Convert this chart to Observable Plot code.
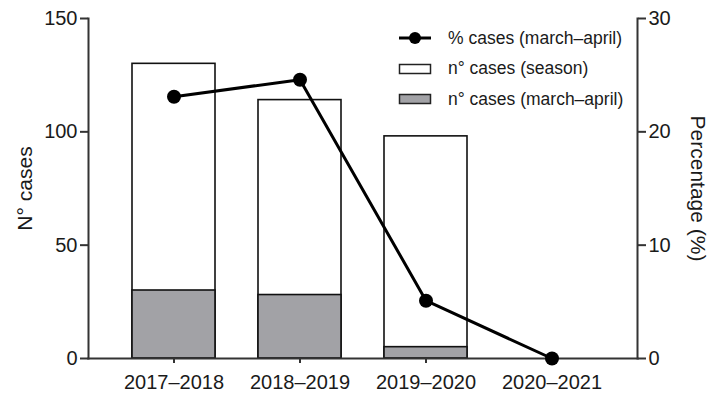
<!DOCTYPE html>
<html>
<head>
<meta charset="utf-8">
<script src="https://cdn.jsdelivr.net/npm/d3@7"></script>
<script src="https://cdn.jsdelivr.net/npm/@observablehq/plot@0.6"></script>
<style>
  html, body { margin: 0; padding: 0; background: #fff; }
  #wrap { position: relative; width: 709px; height: 396px; font-family: "Liberation Sans", Arial, sans-serif; color: #1a1a1a; }
  #legend { position: absolute; left: 398px; top: 23px; font-size: 17.5px; }
  .row { display: flex; align-items: center; height: 30.5px; }
  .row svg { margin-right: 16px; }
</style>
</head>
<body>
<div id="wrap">
  <div id="chart"></div>
  <div id="legend"></div>
</div>
<script>
// Seasons and case counts
const seasons = ["2017–2018", "2018–2019", "2019–2020", "2020–2021"];
const casesSeason = [130, 114, 98, 0];
const casesMarchApril = [30, 28, 5, 0];
const pctMarchApril = [23.1, 24.6, 5.1, 0];

const countTicks = [0, 50, 100, 150];
const pctTicks = [0, 10, 20, 30];

// Percentage axis shares the count scale: 30 % ↔ 150 cases
const k = 150 / 30;

const rows = seasons.map((s, i) => ({
  season: s,
  total: casesSeason[i],
  ma: casesMarchApril[i],
  pct: pctMarchApril[i]
}));
const barRows = rows.filter(d => d.total > 0);

const axisColor = "#333";
const grey = "#a2a2a6";

const chart = Plot.plot({
  width: 709,
  height: 396,
  marginLeft: 88,
  marginRight: 72,
  marginTop: 18,
  marginBottom: 38,
  style: { fontFamily: "Liberation Sans, Arial, sans-serif", color: "#1a1a1a", background: "#fff" },
  x: { type: "band", domain: seasons, padding: 0.34 },
  y: { domain: [0, 150] },
  marks: [
    Plot.barY(barRows, { x: "season", y: "total", fill: "#fff", stroke: "#111", strokeWidth: 1.6 }),
    Plot.barY(barRows, { x: "season", y: "ma", fill: grey, stroke: "#111", strokeWidth: 1.6 }),
    Plot.frame({ anchor: "left", stroke: axisColor, strokeWidth: 2 }),
    Plot.frame({ anchor: "right", stroke: axisColor, strokeWidth: 2 }),
    Plot.frame({ anchor: "bottom", stroke: axisColor, strokeWidth: 2 }),
    Plot.axisY({ anchor: "left", ticks: countTicks, tickSize: 8, tickPadding: 3, fontSize: 20, label: null, strokeWidth: 2, stroke: axisColor }),
    Plot.axisY({ anchor: "right", ticks: pctTicks.map(d => d * k), tickFormat: d => d / k, tickSize: 8, tickPadding: 3, fontSize: 20, label: null, strokeWidth: 2, stroke: axisColor }),
    Plot.axisX({ tickSize: 5, tickPadding: 11, fontSize: 20, label: null, strokeWidth: 2, stroke: axisColor }),
    Plot.line(rows, { x: "season", y: d => d.pct * k, stroke: "#000", strokeWidth: 3 }),
    Plot.dot(rows, { x: "season", y: d => d.pct * k, r: 7, fill: "#000" }),
    Plot.text(["N° cases"], { text: d => d, frameAnchor: "left", textAnchor: "middle", dx: -63, rotate: -90, fontSize: 21, fill: "#1a1a1a" }),
    Plot.text(["Percentage (%)"], { text: d => d, frameAnchor: "right", textAnchor: "middle", dx: 60, rotate: 90, fontSize: 21, fill: "#1a1a1a" })
  ]
});
document.getElementById("chart").appendChild(chart);

// Legend
const legendItems = [
  { label: "% cases (march–april)", kind: "line" },
  { label: "n° cases (season)", kind: "rect", fill: "#fff" },
  { label: "n° cases (march–april)", kind: "rect", fill: grey }
];
const legend = d3.select("#legend");
for (const it of legendItems) {
  const row = legend.append("div").attr("class", "row");
  const sw = row.append("svg").attr("width", 34).attr("height", 16);
  if (it.kind === "line") {
    sw.append("line").attr("x1", 1).attr("x2", 33).attr("y1", 8).attr("y2", 8).attr("stroke", "#000").attr("stroke-width", 3);
    sw.append("circle").attr("cx", 17).attr("cy", 8).attr("r", 6).attr("fill", "#000");
  } else {
    sw.append("rect").attr("x", 1.5).attr("y", 3.5).attr("width", 31).attr("height", 9).attr("fill", it.fill).attr("stroke", "#222").attr("stroke-width", 1.5);
  }
  row.append("span").text(it.label);
}
</script>
</body>
</html>
